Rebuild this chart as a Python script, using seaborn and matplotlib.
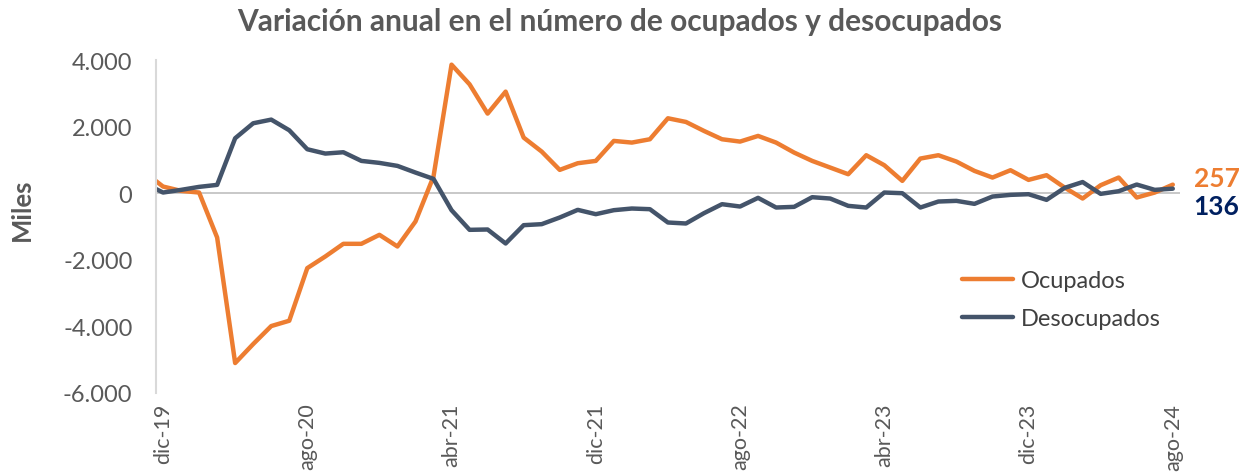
import numpy as np
import pandas as pd
import matplotlib
matplotlib.use("Agg")
import matplotlib.pyplot as plt
import seaborn as sns
from matplotlib.ticker import FuncFormatter

# ---- data (miles de personas, variación anual) ----
# month index: -1 = nov-19 (only partly visible at the left edge), 0 = dic-19 ... 56 = ago-24
month_index = list(range(-1, 57))
ocupados = [620, 200, 70, 20, -1330, -5100, -4530, -3990, -3830, -2250,
            -1900, -1520, -1520, -1250, -1600, -850, 500, 3860, 3270, 2390,
            3050, 1670, 1250, 700, 900, 970, 1570, 1520, 1620, 2250,
            2140, 1870, 1620, 1550, 1720, 1520, 1220, 970, 770, 570,
            1140, 840, 370, 1040, 1140, 950, 670, 470, 690, 400,
            540, 170, -160, 240, 470, -130, 20, 257]
desocupados = [290, 20, 100, 190, 250, 1650, 2100, 2210, 1890, 1320,
               1190, 1230, 970, 910, 820, 620, 430, -510, -1100, -1090,
               -1510, -960, -930, -730, -500, -630, -510, -460, -480, -880,
               -910, -600, -330, -400, -140, -430, -410, -120, -160, -380,
               -430, 20, 0, -430, -250, -230, -320, -100, -50, -30,
               -200, 160, 335, -20, 60, 260, 100, 136]
tick_positions = [0, 8, 16, 24, 32, 40, 48, 56]
tick_labels = ["dic-19", "ago-20", "abr-21", "dic-21", "ago-22", "abr-23", "dic-23", "ago-24"]
y_ticks = [-6000, -4000, -2000, 0, 2000, 4000]
series_names = ["Ocupados", "Desocupados"]

ORANGE = "#ED7D31"
BLUE = "#44546A"
NAVY = "#002060"
GRAY_TXT = "#595959"

sns.set_theme(style="white")
plt.rcParams['font.family'] = ['Lato', 'DejaVu Sans']

W, H = 1239, 477
fig = plt.figure(figsize=(W / 100, H / 100), dpi=100)
ax = fig.add_axes([156 / W, 1 - 394 / H, (1180 - 156) / W, (394 - 61) / H])

df = pd.DataFrame({"mes": month_index, "Ocupados": ocupados, "Desocupados": desocupados})
long = df.melt(id_vars="mes", var_name="serie", value_name="valor")
sns.lineplot(data=long, x="mes", y="valor", hue="serie", hue_order=series_names,
             palette={"Ocupados": ORANGE, "Desocupados": BLUE},
             linewidth=3.2, estimator=None, sort=False, ax=ax)
for ln in ax.lines:
    ln.set_solid_joinstyle("round")
    ln.set_solid_capstyle("round")

ax.set_xlim(-0.39, 56.4)
ax.set_ylim(y_ticks[0], y_ticks[-1])
ax.axhline(0, color="#BFBFBF", lw=1.2, zorder=0.5)

for s in ["top", "right", "bottom"]:
    ax.spines[s].set_visible(False)
ax.spines["left"].set_color("#D9D9D9")
ax.spines["left"].set_linewidth(1.5)

ax.set_yticks(y_ticks)
ax.yaxis.set_major_formatter(FuncFormatter(lambda v, p: f"{int(v):,}".replace(",", ".")))
ax.set_xticks(tick_positions)
ax.set_xticklabels(tick_labels, rotation=90)
ax.tick_params(axis="y", length=0, pad=17, labelsize=17, labelcolor=GRAY_TXT)
ax.tick_params(axis="x", length=0, pad=7, labelsize=15.5, labelcolor=GRAY_TXT)
ax.set_xlabel("")
ax.set_ylabel("")
ax.grid(False)

handles, labels = ax.get_legend_handles_labels()
leg = ax.legend(handles, labels, loc="upper left", bbox_to_anchor=(962 / W, 1 - 271 / H),
                bbox_transform=fig.transFigure, frameon=False, fontsize=17,
                handlelength=2.16, handletextpad=0.34, labelspacing=0.72,
                borderpad=0, borderaxespad=0)
for t in leg.get_texts():
    t.set_color("#404040")

# end labels
ax.annotate(str(ocupados[-1]), xy=(month_index[-1], ocupados[-1]), xytext=(15, 4.5),
            textcoords="offset points", ha="left", va="center",
            fontsize=19, fontweight="bold", color=ORANGE, annotation_clip=False)
ax.annotate(str(desocupados[-1]), xy=(month_index[-1], desocupados[-1]), xytext=(15, -12.5),
            textcoords="offset points", ha="left", va="center",
            fontsize=19, fontweight="bold", color=NAVY, annotation_clip=False)

fig.text(620 / W, 1 - 22 / H, "Variación anual en el número de ocupados y desocupados",
         ha="center", va="center", fontsize=21.5, fontweight="bold", color=GRAY_TXT)
fig.text(22 / W, 1 - 210 / H, "Miles", rotation=90, ha="center", va="center",
         fontsize=18.5, fontweight="bold", color=GRAY_TXT)

fig.savefig("out.png", dpi=100, facecolor="white")
